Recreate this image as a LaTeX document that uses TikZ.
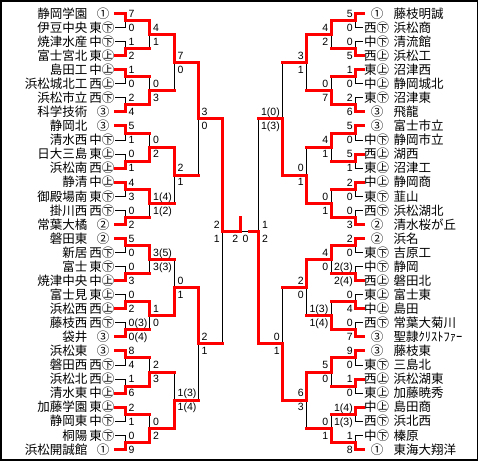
\documentclass[tikz,border=0pt]{standalone}
\usepackage{fontspec}
\newfontfamily\jp{Noto Sans CJK JP}
\newfontfamily\numf{Liberation Sans}
\pgfdeclarelayer{bg}
\pgfsetlayers{bg,main}
\tikzset{
  ln/.style={black, line width=1pt},
  rd/.style={red, line width=3pt, line cap=rect},
  nm/.style={font={\jp\fontsize{12.5pt}{13pt}\selectfont}, inner sep=0pt, text height=11pt, text depth=1.5pt},
  sc/.style={font={\numf\fontsize{10.5pt}{11pt}\selectfont}, inner sep=0pt},
  frame/.style={black, line width=1.5pt}
}
\def\XL#1{\ifcase#1\or125\or149.5\or174\or198\or222\fi}
\def\XLn#1{\ifcase#1\or149.5\or174\or198\or222\or240\fi}
\def\XR#1{\ifcase#1\or355.5\or331\or306.5\or282.5\or258.5\fi}
\def\XRn#1{\ifcase#1\or331\or306.5\or282.5\or258.5\or249.5\fi}
% geometry of a match: round #1, index #2
\newcommand\geom[3]{%
  \pgfmathsetmacro\hn{2^(#1-1)}%
  \pgfmathsetmacro\yt{13.5+14.06*(#2*2*\hn+(\hn-1)/2)}%
  \pgfmathsetmacro\yb{\yt+14.06*\hn}%
  \pgfmathsetmacro\ym{(\yt+\yb)/2}%
  \ifnum#3=1 \let\yw\yt\let\yl\yb\else\let\yw\yb\let\yl\yt\fi
}
% left match: round, index, winner(1=top), score top, score bottom
\newcommand\mL[5]{%
  \geom{#1}{#2}{#3}%
  \edef\X{\XL{#1}}\edef\Xn{\XLn{#1}}%
  \begin{pgfonlayer}{bg}
    \ifnum#1=1 \draw[ln] (115,\yl) -- (\X,\yl) -- (\X,\ym);
    \else \draw[ln] (\X,\yl) -- (\X,\ym);\fi
  \end{pgfonlayer}
  \ifnum#1=1 \draw[rd] (115,\yw) -- (\X,\yw) -- (\X,\ym) -- (\Xn,\ym);
  \else \draw[rd] (\X,\yw) -- (\X,\ym) -- (\Xn,\ym);\fi
  \ifnum#1=5
    \node[sc, anchor=base east] (sLt#1-#2) at (\X-2,\ym-3.2) {#4};
    \node[sc, anchor=base east] (sLb#1-#2) at (\X-2,\ym+10.8) {#5};
  \else
    \node[sc, anchor=base west] (sLt#1-#2) at (\X+3.5,\ym-3.2) {#4};
    \node[sc, anchor=base west] (sLb#1-#2) at (\X+3.5,\ym+10.8) {#5};
  \fi
}
\newcommand\mR[5]{%
  \geom{#1}{#2}{#3}%
  \edef\X{\XR{#1}}\edef\Xn{\XRn{#1}}%
  \begin{pgfonlayer}{bg}
    \ifnum#1=1 \draw[ln] (363,\yl) -- (\X,\yl) -- (\X,\ym);
    \else \draw[ln] (\X,\yl) -- (\X,\ym);\fi
  \end{pgfonlayer}
  \ifnum#1=1 \draw[rd] (363,\yw) -- (\X,\yw) -- (\X,\ym) -- (\Xn,\ym);
  \else \draw[rd] (\X,\yw) -- (\X,\ym) -- (\Xn,\ym);\fi
  \ifnum#1=5
    \node[sc, anchor=base west] (sRt#1-#2) at (\X+3.5,\ym-3.2) {#4};
    \node[sc, anchor=base west] (sRb#1-#2) at (\X+3.5,\ym+10.8) {#5};
  \else
    \node[sc, anchor=base east] (sRt#1-#2) at (\X-2.5,\ym-3.2) {#4};
    \node[sc, anchor=base east] (sRb#1-#2) at (\X-2.5,\ym+10.8) {#5};
  \fi
}
\begin{document}
\begin{tikzpicture}[x=1pt,y=-1pt]
\useasboundingbox (0,0) rectangle (481,463);
\draw[frame] (1,1) rectangle (477.5,460);
% ---------- left teams
\foreach \i/\n in {0/静岡学園,1/伊豆中央,2/焼津水産,3/富士宮北,4/島田工,5/浜松城北工,6/浜松市立,7/科学技術,8/静岡北,9/清水西,10/日大三島,11/浜松南,12/静清,13/御殿場南,14/掛川西,15/常葉大橘,16/磐田東,17/新居,18/富士,19/焼津中央,20/富士見,21/浜松西,22/藤枝西,23/袋井,24/浜松東,25/磐田西,26/浜松北,27/清水東,28/加藤学園,29/静岡東,30/桐陽,31/浜松開誠館}
  \node[nm, anchor=east] (nL\i) at (87.5,{13.5+14.06*\i}) {\n};
\foreach \i/\k in {1/東㊦,2/中㊦,3/東㊤,4/中㊤,5/西㊤,6/西㊦,9/中㊦,10/東㊤,11/西㊤,12/中㊤,13/東㊦,14/西㊦,17/西㊦,18/東㊦,19/中㊤,20/東㊤,21/西㊤,22/西㊦,25/西㊦,26/西㊤,27/中㊤,28/東㊤,29/中㊦,30/東㊦}
  \node[nm, anchor=east] (kL\i) at (114.5,{13.5+14.06*\i}) {\k};
\foreach \i/\k in {0/①,7/③,8/③,15/②,16/②,23/③,24/③,31/①}
  \node[nm] (kL\i) at (103,{13.5+14.06*\i}) {\k};
% ---------- right teams
\foreach \i/\n in {0/藤枝明誠,1/浜松商,2/清流館,3/浜松工,4/沼津西,5/静岡城北,6/沼津東,7/飛龍,8/富士市立,9/静岡市立,10/湖西,11/沼津工,12/静岡商,13/韮山,14/浜松湖北,15/清水桜が丘,16/浜名,17/吉原工,18/静岡,19/磐田北,20/富士東,21/島田,22/常葉大菊川,23/聖隷ｸﾘｽﾄﾌｧｰ,24/藤枝東,25/三島北,26/浜松湖東,27/加藤暁秀,28/島田商,29/浜北西,30/榛原,31/東海大翔洋}
  \node[nm, anchor=west] (nR\i) at (393.5,{13.5+14.06*\i}) {\n};
\foreach \i/\k in {1/西㊦,2/中㊦,3/西㊤,4/東㊤,5/中㊤,6/東㊦,9/中㊦,10/西㊤,11/東㊤,12/中㊤,13/東㊦,14/西㊦,17/東㊦,18/中㊦,19/西㊤,20/東㊤,21/中㊤,22/西㊦,25/東㊦,26/西㊤,27/東㊤,28/中㊤,29/西㊦,30/中㊦}
  \node[nm, anchor=west] (kR\i) at (364,{13.5+14.06*\i}) {\k};
\foreach \i/\k in {0/①,7/③,8/③,15/②,16/②,23/③,24/③,31/①}
  \node[nm] (kR\i) at (377,{13.5+14.06*\i}) {\k};
% ---------- left bracket
\mL{1}{0}{1}{7}{0}
\mL{1}{1}{0}{1}{2}
\mL{1}{2}{1}{1}{0}
\mL{1}{3}{0}{2}{4}
\mL{1}{4}{1}{5}{1}
\mL{1}{5}{0}{0}{1}
\mL{1}{6}{1}{4}{3}
\mL{1}{7}{0}{0}{2}
\mL{1}{8}{1}{5}{0}
\mL{1}{9}{0}{0}{3}
\mL{1}{10}{0}{0}{2}
\mL{1}{11}{0}{0(3)}{0(4)}
\mL{1}{12}{1}{8}{4}
\mL{1}{13}{0}{1}{6}
\mL{1}{14}{1}{2}{1}
\mL{1}{15}{0}{0}{9}
\mL{2}{0}{1}{4}{1}
\mL{2}{1}{0}{0}{3}
\mL{2}{2}{0}{0}{2}
\mL{2}{3}{1}{1(4)}{1(2)}
\mL{2}{4}{1}{3(5)}{3(3)}
\mL{2}{5}{1}{1}{0}
\mL{2}{6}{0}{2}{3}
\mL{2}{7}{0}{0}{2}
\mL{3}{0}{1}{7}{0}
\mL{3}{1}{1}{2}{1}
\mL{3}{2}{0}{0}{1}
\mL{3}{3}{0}{1(3)}{1(4)}
\mL{4}{0}{1}{3}{0}
\mL{4}{1}{1}{2}{1}
\mL{5}{0}{1}{2}{1}
% ---------- right bracket
\mR{1}{0}{1}{5}{0}
\mR{1}{1}{0}{0}{5}
\mR{1}{2}{1}{1}{0}
\mR{1}{3}{0}{2}{6}
\mR{1}{4}{1}{5}{0}
\mR{1}{5}{1}{5}{1}
\mR{1}{6}{1}{2}{0}
\mR{1}{7}{0}{0}{3}
\mR{1}{8}{1}{2}{0}
\mR{1}{9}{0}{2(3)}{2(4)}
\mR{1}{10}{0}{0}{4}
\mR{1}{11}{0}{0}{7}
\mR{1}{12}{1}{9}{0}
\mR{1}{13}{1}{1}{0}
\mR{1}{14}{1}{1(4)}{1(3)}
\mR{1}{15}{0}{1}{8}
\mR{2}{0}{1}{4}{2}
\mR{2}{1}{0}{0}{7}
\mR{2}{2}{1}{4}{1}
\mR{2}{3}{0}{0}{1}
\mR{2}{4}{1}{4}{0}
\mR{2}{5}{0}{1(3)}{1(4)}
\mR{2}{6}{1}{5}{0}
\mR{2}{7}{0}{0}{1}
\mR{3}{0}{1}{3}{1}
\mR{3}{1}{0}{0}{1}
\mR{3}{2}{1}{2}{0}
\mR{3}{3}{1}{6}{3}
\mR{4}{0}{0}{1(0)}{1(3)}
\mR{4}{1}{0}{0}{1}
\mR{5}{0}{0}{1}{2}
% ---------- final
\pgfmathsetmacro\yf{13.5+14.06*15.5}
\coordinate (fc) at (240,\yf);
\coordinate (ftop) at (240,217);
\coordinate (fr) at (249.5,\yf);
\begin{pgfonlayer}{bg}\draw[ln] (fr) -- (fc);\end{pgfonlayer}
\draw[rd] (fc) -- (ftop);
\node[sc, anchor=base east] (fsl) at (238.5,\yf+10.8) {2};
\node[sc, anchor=base west] (fsr) at (242.5,\yf+10.8) {0};
\end{tikzpicture}
\end{document}
